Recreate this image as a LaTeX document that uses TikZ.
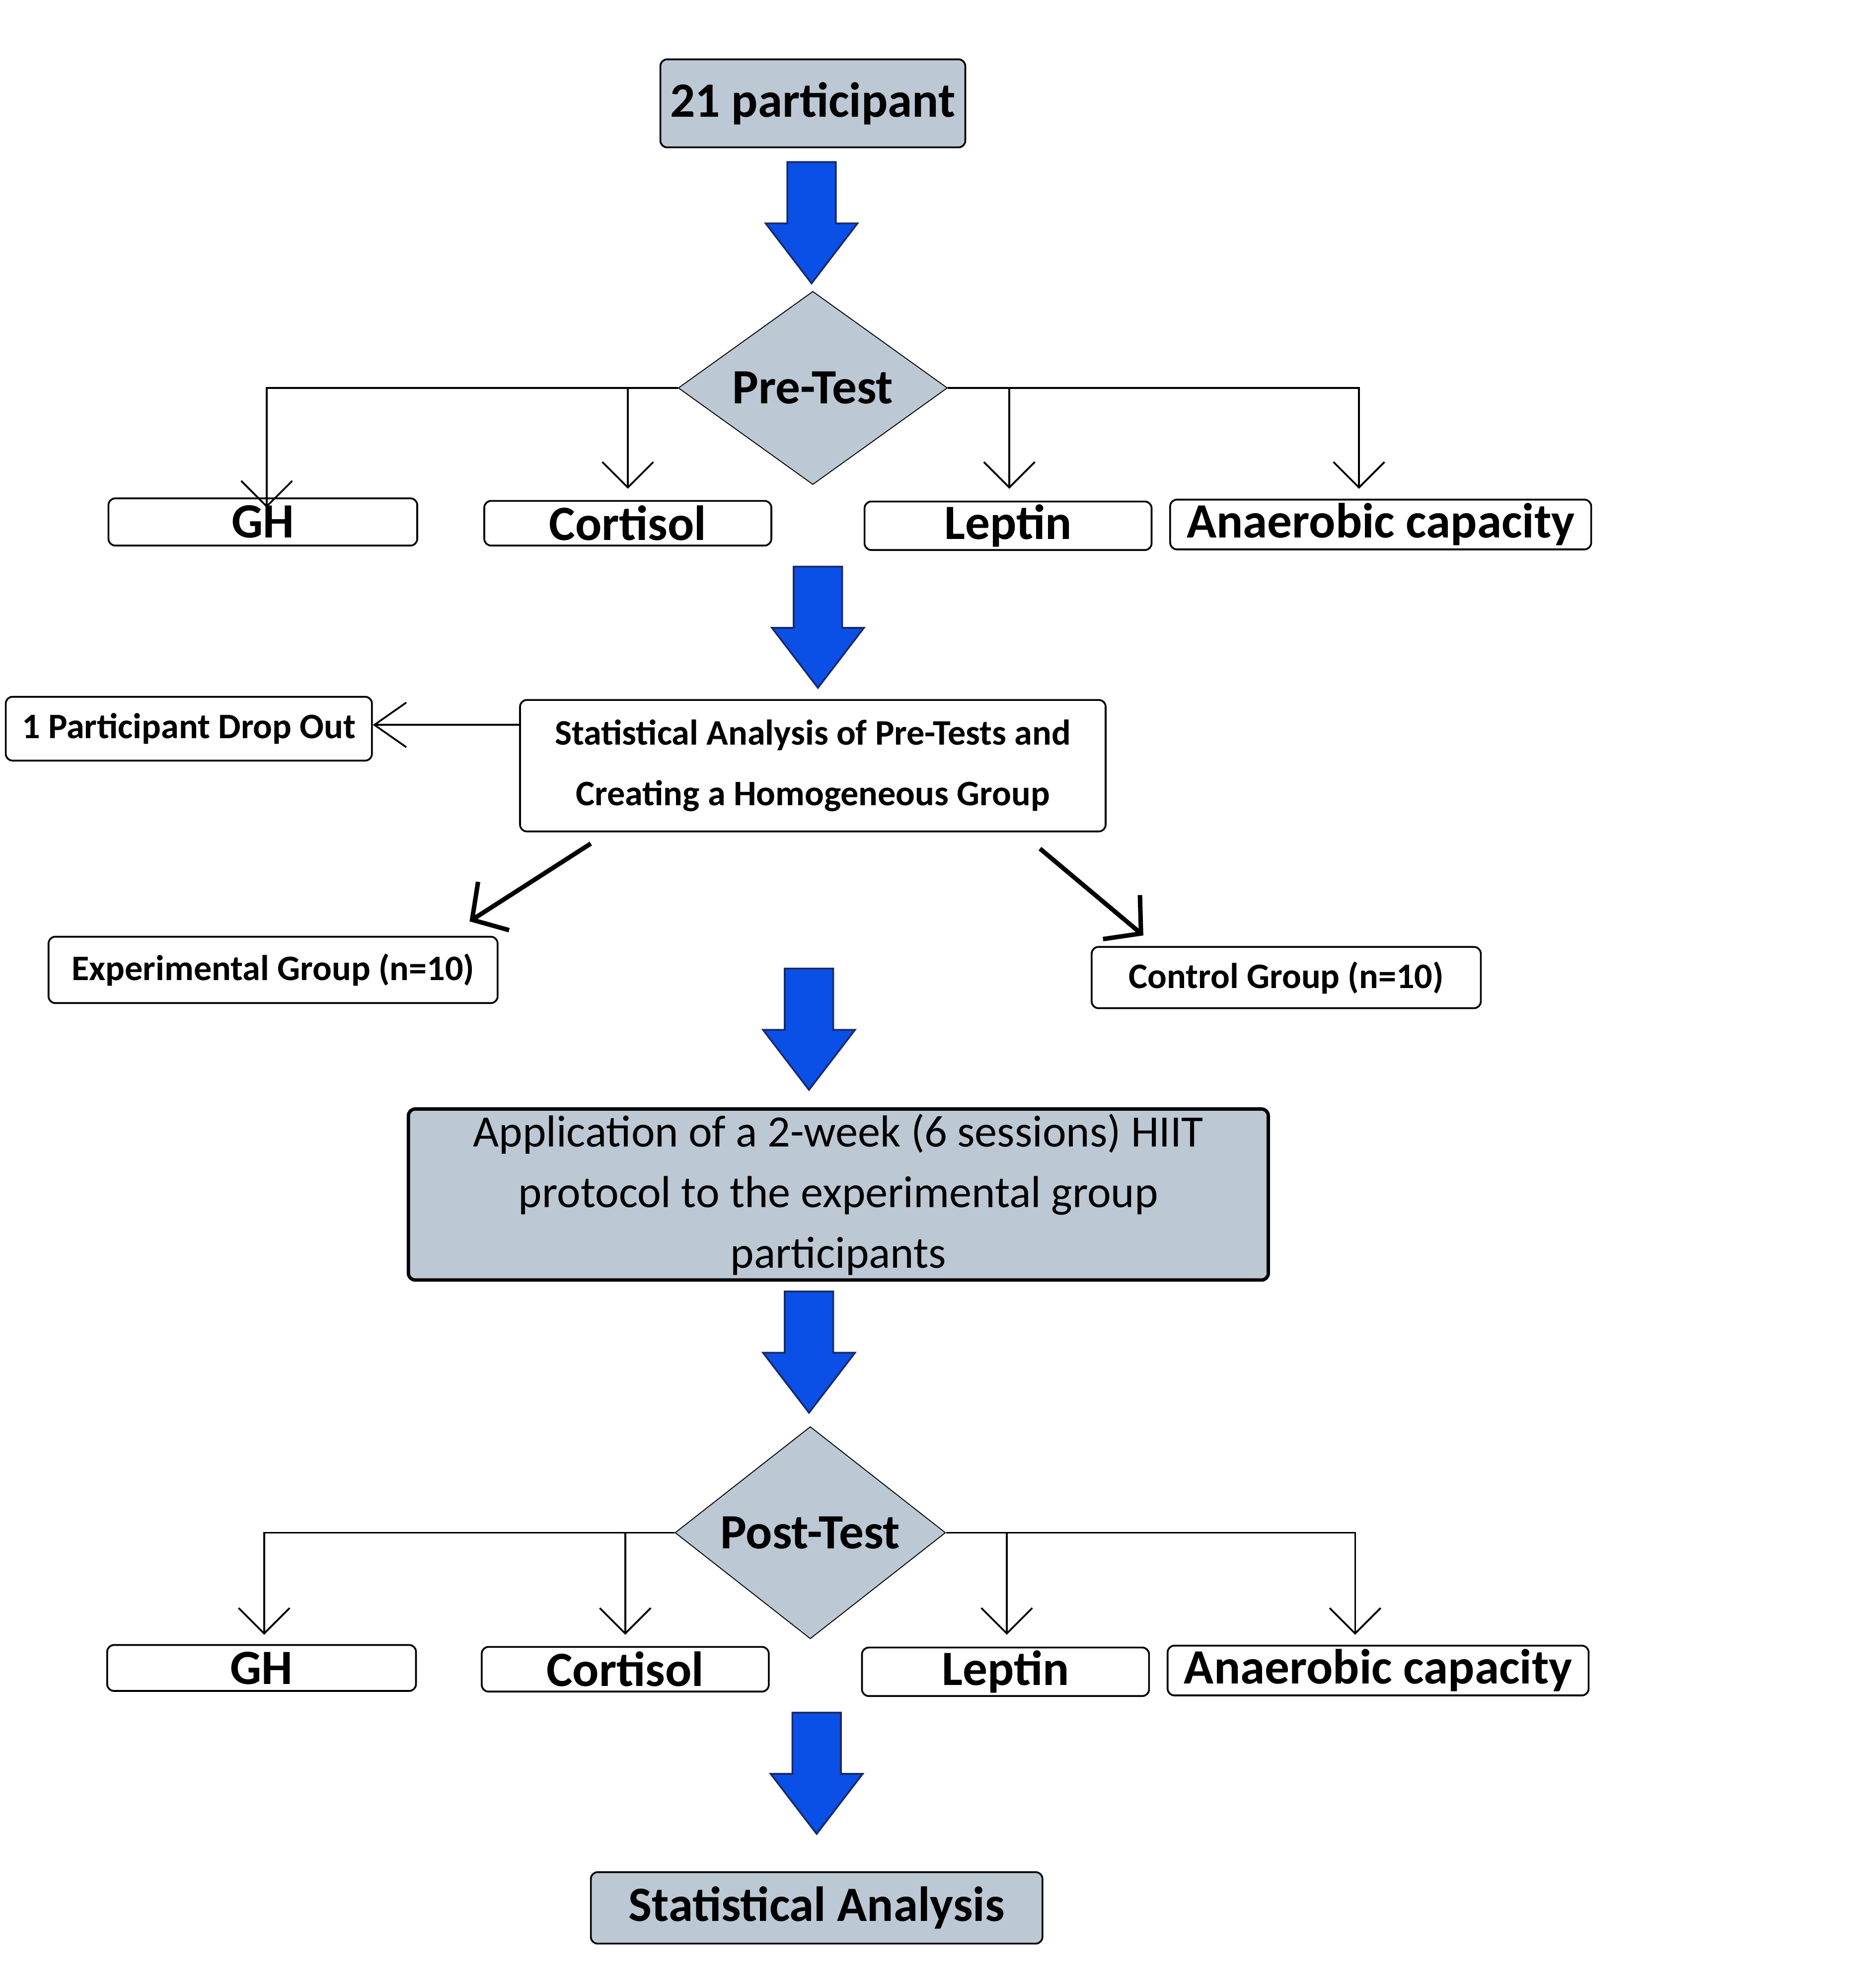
\documentclass[tikz,border=0pt]{standalone}
\usepackage{fontspec}
\setmainfont{Carlito}
\usetikzlibrary{arrows.meta,shapes.geometric}
\definecolor{boxgray}{HTML}{BCC8D4}
\definecolor{arrowblue}{HTML}{0A50E6}
\definecolor{arrowdark}{HTML}{1A2A6A}
\tikzset{
  box/.style={draw, rounded corners=3pt, thick, inner sep=0pt, font=\bfseries},
  grayfill/.style={fill=boxgray},
  decision/.style={diamond, draw, fill=boxgray, inner sep=0pt, font=\bfseries\fontsize{22}{26}\selectfont},
  branch/.style={thick, -{Straight Barb[length=4mm,width=8mm]}},
  diag/.style={line width=2pt, -{Straight Barb[length=4mm,width=9mm]}},
  bluearrow/.pic={\draw[fill=arrowblue, draw=arrowdark, thick] (-19,0) -- (19,0) -- (19,48) -- (36,48) -- (0,95) -- (-36,48) -- (-19,48) -- cycle;}
}
\begin{document}
\begin{tikzpicture}[x=0.02cm, y=-0.02cm]
  \useasboundingbox (0,0) rectangle (1470,1557);

  % top part
  \node[box, grayfill, minimum width=4.78cm, minimum height=1.38cm, font=\bfseries\fontsize{22}{26}\selectfont] (participants) at (637,81) {21 participant};
  \pic at (636,127) {bluearrow};
  \node[decision, minimum width=4.22cm, minimum height=2.88cm] (pretest) at (637,304) {Pre-Test};

  \node[box, minimum width=4.84cm, minimum height=0.74cm, font=\bfseries\fontsize{22}{26}\selectfont] (gh1) at (206,409) {GH};
  \node[box, minimum width=4.5cm, minimum height=0.7cm, font=\bfseries\fontsize{22}{26}\selectfont] (cortisol1) at (492,410) {Cortisol};
  \node[box, minimum width=4.5cm, minimum height=0.76cm, font=\bfseries\fontsize{22}{26}\selectfont] (leptin1) at (790,412) {Leptin};
  \node[box, minimum width=6.6cm, minimum height=0.78cm, font=\bfseries\fontsize{22}{26}\selectfont] (anaerobic1) at (1082,411) {Anaerobic capacity};

  \draw[branch] (pretest.west) -| ([yshift=-0.16cm]gh1.north -| 209,0);
  \draw[branch] (492,304) -- (492,383);
  \draw[branch] (pretest.east) -| (1065,383);
  \draw[branch] (791,304) -- (791,383);

  \pic at (641,444) {bluearrow};

  % analysis and groups
  \node[box, minimum width=9.18cm, minimum height=2.06cm, align=center, font=\bfseries\fontsize{16}{27}\selectfont] (analysis) at (637,600) {Statistical Analysis of Pre-Tests and\\Creating a Homogeneous Group};
  \node[box, minimum width=5.74cm, minimum height=1cm, font=\bfseries\fontsize{16}{20}\selectfont] (dropout) at (148,571) {1 Participant Drop Out};
  \draw[thick, -{Straight Barb[length=5mm,width=7mm]}] (analysis.west |- 0,568) -- (dropout.east |- 0,568);

  \node[box, minimum width=7.04cm, minimum height=1.04cm, font=\bfseries\fontsize{16}{20}\selectfont] (experimental) at (214,760) {Experimental Group (n=10)};
  \node[box, minimum width=6.1cm, minimum height=0.96cm, font=\bfseries\fontsize{16}{20}\selectfont] (control) at (1008,766) {Control Group (n=10)};
  \draw[diag] (463,661) -- (368,722);
  \draw[diag] (815,665) -- (896,733);

  \pic at (634,759) {bluearrow};
  \node[box, grayfill, line width=1.5pt, minimum width=13.48cm, minimum height=2.68cm, align=center, font=\fontsize{20}{27}\selectfont] (protocol) at (657,936) {Application of a 2-week (6 sessions) HIIT\\protocol to the experimental group\\participants};
  \pic at (634,1012) {bluearrow};

  % bottom part
  \node[decision, minimum width=4.24cm, minimum height=2.88cm] (posttest) at (635,1201) {Post-Test};

  \node[box, minimum width=4.84cm, minimum height=0.72cm, font=\bfseries\fontsize{22}{26}\selectfont] (gh2) at (205,1307) {GH};
  \node[box, minimum width=4.5cm, minimum height=0.7cm, font=\bfseries\fontsize{22}{26}\selectfont] (cortisol2) at (490,1308) {Cortisol};
  \node[box, minimum width=4.5cm, minimum height=0.76cm, font=\bfseries\fontsize{22}{26}\selectfont] (leptin2) at (788,1310) {Leptin};
  \node[box, minimum width=6.6cm, minimum height=0.78cm, font=\bfseries\fontsize{22}{26}\selectfont] (anaerobic2) at (1080,1309) {Anaerobic capacity};

  \draw[branch] (posttest.west) -| (207,1281);
  \draw[branch] (490,1201) -- (490,1281);
  \draw[branch] (posttest.east) -| (1062,1281);
  \draw[branch] (789,1201) -- (789,1281);

  \pic at (640,1342) {bluearrow};
  \node[box, grayfill, minimum width=7.08cm, minimum height=1.12cm, font=\bfseries\fontsize{22}{26}\selectfont] (statistics) at (640,1495) {Statistical Analysis};
\end{tikzpicture}
\end{document}
